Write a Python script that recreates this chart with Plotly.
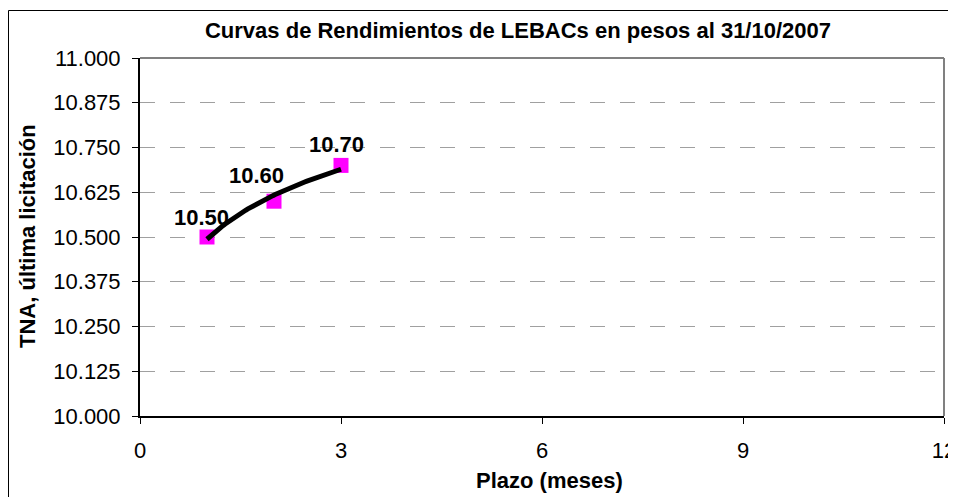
import numpy as np
import plotly.graph_objects as go

# Data
plazo_meses = [1, 2, 3]
tna = [10.50, 10.60, 10.70]
etiquetas = ["10.50", "10.60", "10.70"]
x_ticks = [0, 3, 6, 9, 12]
y_ticks = [10.000, 10.125, 10.250, 10.375, 10.500, 10.625, 10.750, 10.875, 11.000]

title_text = "Curvas de Rendimientos de LEBACs en pesos al 31/10/2007"
x_title = "Plazo (meses)"
y_title = "TNA, última licitación"

# Logarithmic trendline (as Excel) fitted from the data
b, a = np.polyfit(np.log(plazo_meses), tna, 1)
xt = np.linspace(min(plazo_meses), max(plazo_meses), 60)
yt = a + b * np.log(xt)

OFF = 8  # page body margin
W, H = 948, 489
L, R, T, B = 132, 12, 50, 81
pw, ph = W - L - R, H - T - B

def px_x(p):
    return (p - OFF - L) / pw

def px_y(p):
    return (H - B - (p - OFF)) / ph

FONT = "Liberation Sans, Arial"

fig = go.Figure()
fig.add_trace(go.Scatter(x=plazo_meses, y=tna, mode="markers",
                         marker=dict(symbol="square", size=15, color="#FF00FF",
                                     line=dict(width=0)),
                         showlegend=False, hoverinfo="skip"))
fig.add_trace(go.Scatter(x=xt, y=yt, mode="lines",
                         line=dict(color="black", width=5),
                         showlegend=False, hoverinfo="skip"))

shifts = [(-6, 20), (-18, 26), (-5, 21)]
for xv, yv, lab, (dx, dy) in zip(plazo_meses, tna, etiquetas, shifts):
    fig.add_annotation(x=xv, y=yv, text=lab, showarrow=False,
                       xshift=dx, yshift=dy, xanchor="center", yanchor="middle",
                       font=dict(family=FONT, size=22, color="black", weight="bold"))

# Axis titles
fig.add_annotation(x=px_x(549), y=px_y(480), xref="paper", yref="paper",
                   text=x_title, showarrow=False, xanchor="center", yanchor="middle",
                   font=dict(family=FONT, size=22, color="black", weight="bold"))
fig.add_annotation(x=px_x(27), y=px_y(236), xref="paper", yref="paper",
                   text=y_title, showarrow=False, textangle=-90,
                   xanchor="center", yanchor="middle",
                   font=dict(family=FONT, size=22, color="black", weight="bold"))

# Plot area top/right gray border
fig.add_shape(type="line", xref="paper", yref="paper", x0=0, x1=1, y0=1, y1=1,
              line=dict(color="#808080", width=2), layer="above")
fig.add_shape(type="line", xref="paper", yref="paper", x0=1, x1=1, y0=0, y1=1,
              line=dict(color="#808080", width=2), layer="above")
# Outer chart border
fig.add_shape(type="rect", xref="paper", yref="paper",
              x0=px_x(8.5), x1=px_x(975), y0=px_y(515), y1=px_y(10.5),
              line=dict(color="black", width=1), layer="above")

fig.update_layout(
    width=W, height=H,
    margin=dict(l=L, r=R, t=T, b=B, autoexpand=False),
    paper_bgcolor="white", plot_bgcolor="white",
    font=dict(family=FONT, size=22, color="black"),
    title=dict(text=title_text, x=px_x(518), xref="paper", xanchor="center",
               y=1 - (30 - OFF) / H, yref="container", yanchor="middle",
               font=dict(family=FONT, size=22, color="black", weight="bold")),
    xaxis=dict(range=[0, 12], tickvals=x_ticks, ticktext=[str(v) for v in x_ticks],
               showgrid=False, zeroline=False, automargin=False,
               showline=True, linecolor="black", linewidth=2,
               ticks="outside", ticklen=6, tickcolor="black", tickwidth=1,
               ticklabelstandoff=8, ticklabeloverflow="allow", fixedrange=True),
    yaxis=dict(range=[10, 11], tickvals=y_ticks,
               ticktext=[f"{v:.3f}" for v in y_ticks],
               showgrid=True, gridcolor="#A0A0A0", gridwidth=1, griddash="15px,15px",
               zeroline=False, automargin=False,
               showline=True, linecolor="black", linewidth=2,
               ticks="outside", ticklen=6, tickcolor="black", tickwidth=1,
               ticklabelstandoff=7, fixedrange=True),
)

fig.write_html("out.html")
